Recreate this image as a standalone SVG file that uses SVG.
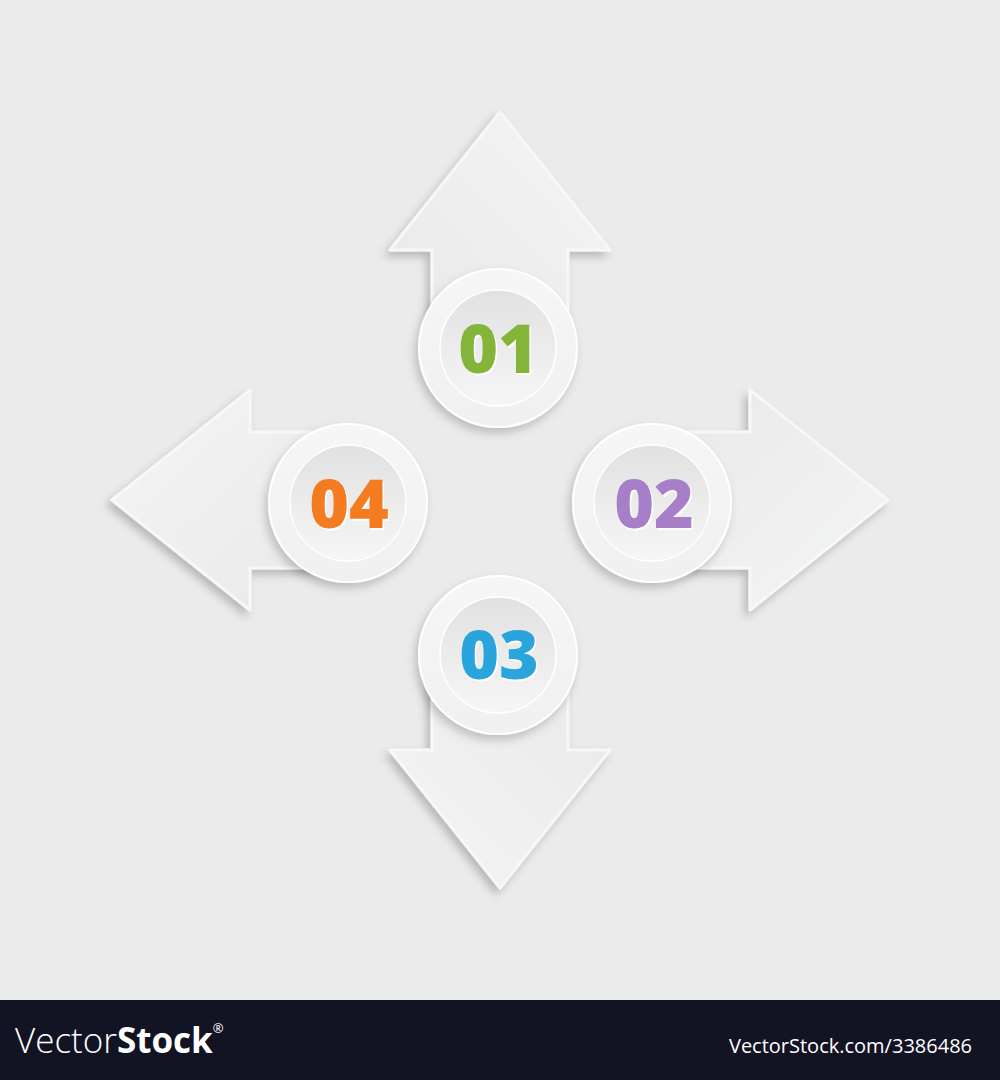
<svg xmlns="http://www.w3.org/2000/svg" xmlns:xlink="http://www.w3.org/1999/xlink" width="1000" height="1080" viewBox="0 0 1000 1080">
<style>
.num{font-family:"Open Sans","Liberation Sans",sans-serif;font-weight:800;font-size:68px;text-anchor:middle}
.hl{fill:#ffffff}
.wm{font-family:"Open Sans","Liberation Sans",sans-serif;fill:#ffffff}
</style>
<defs>
<linearGradient id="ag" x1="1" y1="0" x2="0" y2="1">
<stop offset="0" stop-color="#f4f5f5"/>
<stop offset="1" stop-color="#e8e8e8"/>
</linearGradient>
<linearGradient id="og" x1="0" y1="0" x2="0" y2="1">
<stop offset="0" stop-color="#f6f6f6"/>
<stop offset="1" stop-color="#f0f0f0"/>
</linearGradient>
<linearGradient id="ig" x1="0" y1="0" x2="0" y2="1">
<stop offset="0" stop-color="#e1e1e1"/>
<stop offset="1" stop-color="#f6f6f6"/>
</linearGradient>
<filter id="sh" x="-30%" y="-30%" width="160%" height="160%">
<feDropShadow dx="-4" dy="5" stdDeviation="4" flood-color="#000" flood-opacity="0.22"/>
</filter>
<filter id="csh" x="-30%" y="-30%" width="160%" height="160%">
<feDropShadow dx="-3" dy="5" stdDeviation="5" flood-color="#000" flood-opacity="0.2"/>
</filter>
<path id="arrow" d="M500 112 L610 250 L568 250 L568 350 L432 350 L432 250 L390 250 Z" fill="url(#ag)" stroke="#f7f7f7" stroke-width="3" stroke-linejoin="round"/>
<g id="disc">
<circle cx="0" cy="0" r="79" fill="url(#og)" stroke="#ffffff" stroke-width="2"/>
<circle cx="0" cy="0" r="58" fill="url(#ig)" stroke="#ffffff" stroke-width="1.5"/>
</g>
</defs>
<rect x="0" y="0" width="1000" height="1000" fill="#ebebeb"/>

<g id="node-01">
<g filter="url(#sh)"><use xlink:href="#arrow" href="#arrow"/></g>
<g filter="url(#csh)"><use xlink:href="#disc" href="#disc" transform="translate(498 348)"/></g>
<text class="num hl" x="499.5" y="374.5">01</text>
<text class="num" x="498" y="373" fill="#84b43a">01</text>
</g>

<g id="node-02">
<g filter="url(#sh)"><use xlink:href="#arrow" href="#arrow" transform="rotate(90 500 500)"/></g>
<g filter="url(#csh)"><use xlink:href="#disc" href="#disc" transform="translate(652 503)"/></g>
<text class="num hl" x="655.5" y="529.5">02</text>
<text class="num" x="654" y="528" fill="#a77fc9">02</text>
</g>

<g id="node-04">
<g filter="url(#sh)"><use xlink:href="#arrow" href="#arrow" transform="rotate(-90 500 500)"/></g>
<g filter="url(#csh)"><use xlink:href="#disc" href="#disc" transform="translate(348 503)"/></g>
<text class="num hl" x="350.5" y="529.5">04</text>
<text class="num" x="349" y="528" fill="#f47b20">04</text>
</g>

<g id="node-03">
<g filter="url(#sh)"><use xlink:href="#arrow" href="#arrow" transform="rotate(180 500 500)"/></g>
<g filter="url(#csh)"><use xlink:href="#disc" href="#disc" transform="translate(498 655)"/></g>
<text class="num hl" x="500.5" y="680.5">03</text>
<text class="num" x="499" y="679" fill="#2aa4dd">03</text>
</g>

<g id="connectors"/>

<g id="footer">
<rect x="0" y="1000" width="1000" height="80" fill="#121424"/>
<text class="wm" x="15" y="1053" font-size="35"><tspan font-weight="300">Vector</tspan><tspan font-weight="700">Stock</tspan><tspan font-size="13" dy="-20">®</tspan></text>
<text class="wm" x="972" y="1053" font-size="20" text-anchor="end">VectorStock.com/3386486</text>
</g>
</svg>
